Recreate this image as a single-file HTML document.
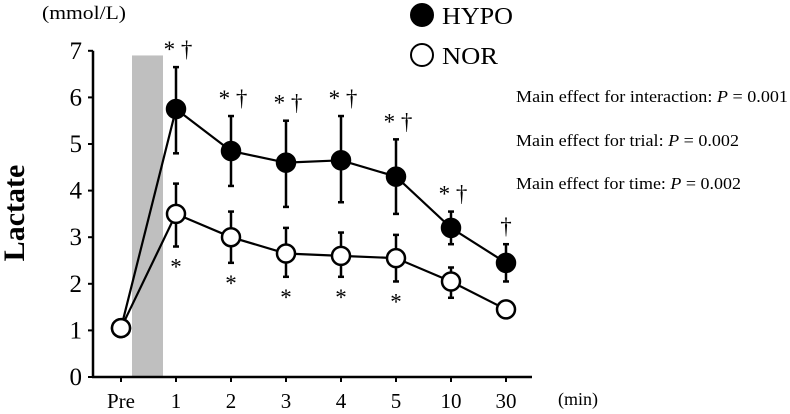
<!DOCTYPE html>
<html><head><meta charset="utf-8"><style>
body{margin:0;background:#fff;}
svg{display:block;font-family:"Liberation Serif",serif;}
</style></head><body>
<svg width="790" height="414">
<g id="g"></g>
</svg>
<script>
const categories=["Pre","1","2","3","4","5","10","30"];
const hypo=[1.05,5.75,4.85,4.6,4.65,4.3,3.2,2.45];
const hypoUp=[1.05,6.65,5.6,5.5,5.6,5.1,3.55,2.85];
const hypoLo=[1.05,4.8,4.1,3.65,3.75,3.5,2.85,2.05];
const nor=[1.05,3.5,3.0,2.65,2.6,2.55,2.05,1.45];
const norUp=[1.05,4.15,3.55,3.2,3.1,3.05,2.35,1.45];
const norLo=[1.05,2.8,2.45,2.15,2.15,2.05,1.7,1.45];
const yTicks=[0,1,2,3,4,5,6,7];
const hypoMarks=["","* †","* †","* †","* †","* †","* †","†"];
const norMarks=["","*","*","*","*","*","",""];
const NS="http://www.w3.org/2000/svg";
const g=document.getElementById('g');
const X=i=>121+i*55, Y=v=>377-v*46.6;
function el(t,a,txt){const e=document.createElementNS(NS,t);for(const k in a)e.setAttribute(k,a[k]);if(txt!==undefined)e.textContent=txt;g.appendChild(e);return e;}
let e;
e=el('rect',{x:132,y:Y(6.9),width:31,height:377-Y(6.9),fill:'#bfbfbf'});


e=el('line',{x1:93,y1:Y(7),x2:93,y2:377,stroke:'#000','stroke-width':2.5});


e=el('line',{x1:92,y1:377,x2:532,y2:377,stroke:'#000','stroke-width':2.5});


yTicks.forEach(v=>{
 el('line',{x1:88,y1:Y(v),x2:93,y2:Y(v),stroke:'#000','stroke-width':2});
 e=el('text',{x:82,y:Y(v)+8,'font-size':25,'text-anchor':'end'},v);
 
 
});
categories.forEach((c,i)=>{
 el('line',{x1:X(i),y1:377,x2:X(i),y2:382,stroke:'#000','stroke-width':2});
 e=el('text',{x:X(i),y:408,'font-size':21,'text-anchor':'middle'},c);
 
 
});
e=el('text',{x:558,y:405,'font-size':18},'(min)');


e=el('text',{x:42,y:19,'font-size':19,textLength:84,lengthAdjust:'spacingAndGlyphs'},'(mmol/L)');


e=el('text',{x:0,y:0,'font-size':30,'font-weight':'bold','text-anchor':'middle',transform:'translate(24,213) rotate(-90)'},'Lactate');


function series(v,up,lo,fill,name){
 for(let i=1;i<v.length;i++){
  if(up[i]!==v[i]){el('line',{x1:X(i),y1:Y(up[i]),x2:X(i),y2:Y(lo[i]),stroke:'#000','stroke-width':2.5});
  el('line',{x1:X(i)-3,y1:Y(up[i]),x2:X(i)+3,y2:Y(up[i]),stroke:'#000','stroke-width':2.5});
  el('line',{x1:X(i)-3,y1:Y(lo[i]),x2:X(i)+3,y2:Y(lo[i]),stroke:'#000','stroke-width':2.5});}
 }
 e=el('polyline',{points:v.map((d,i)=>X(i)+','+Y(d)).join(' '),fill:'none',stroke:'#000','stroke-width':2.2});
 
 
 v.forEach((d,i)=>{
  e=el('circle',{cx:X(i),cy:Y(d),r:9,fill:fill,stroke:'#000','stroke-width':2.5});
  
  
 });
}
series(hypo,hypoUp,hypoLo,'#000','hypo');
series(nor,norUp,norLo,'#fff','nor');
hypoMarks.forEach((m,i)=>{if(!m)return;
 e=el('text',{x:X(i)+(m.length>1?2:0),y:Y(hypoUp[i])-10,'font-size':23,'text-anchor':'middle'},m);
 
 
});
norMarks.forEach((m,i)=>{if(!m)return;
 e=el('text',{x:X(i),y:Y(norLo[i])+28,'font-size':23,'text-anchor':'middle'},m);
 
 
});
e=el('circle',{cx:422,cy:15,r:11,fill:'#000',stroke:'#000','stroke-width':2});


e=el('text',{x:442,y:24,'font-size':24,textLength:71,lengthAdjust:'spacingAndGlyphs'},'HYPO');


e=el('circle',{cx:422,cy:55,r:11,fill:'#fff',stroke:'#000','stroke-width':2});


e=el('text',{x:442,y:64,'font-size':24,textLength:56,lengthAdjust:'spacingAndGlyphs'},'NOR');


const notes=[["Main effect for interaction: ","0.001",102,272],["Main effect for trial: ","0.002",146,223],["Main effect for time: ","0.002",189,225]];
notes.forEach(n=>{
 const t=el('text',{x:516,y:n[2],'font-size':17,textLength:n[3],lengthAdjust:'spacingAndGlyphs'});
 
 
 t.appendChild(document.createTextNode(n[0]));
 const s=document.createElementNS(NS,'tspan');s.setAttribute('font-style','italic');s.textContent='P';t.appendChild(s);
 t.appendChild(document.createTextNode(' = '+n[1]));
});
</script>
</body></html>
